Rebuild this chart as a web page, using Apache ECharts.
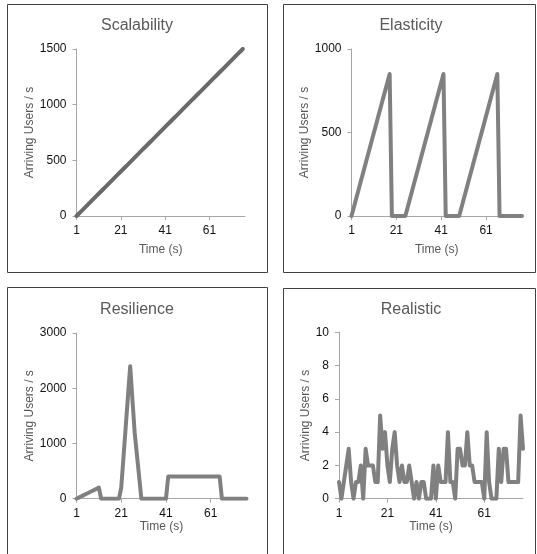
<!DOCTYPE html>
<html>
<head>
<meta charset="utf-8">
<script src="https://cdn.jsdelivr.net/npm/echarts@6/dist/echarts.min.js"></script>
<style>
    html, body { margin: 0; padding: 0; background: #fff; }
</style>
</head>
<body>
<div id="chartId" style="width: 537px; height: 554px"></div>
<script>
// time axis: 1 .. 77 seconds
const timeCats = [];
for (let t = 1; t <= 77; t++) timeCats.push(String(t));

const scalability = [
    0, 20, 40, 60, 80, 100, 120, 140, 160, 180,
    200, 220, 240, 260, 280, 300, 320, 340, 360, 380,
    400, 420, 440, 460, 480, 500, 520, 540, 560, 580,
    600, 620, 640, 660, 680, 700, 720, 740, 760, 780,
    800, 820, 840, 860, 880, 900, 920, 940, 960, 980,
    1000, 1020, 1040, 1060, 1080, 1100, 1120, 1140, 1160, 1180,
    1200, 1220, 1240, 1260, 1280, 1300, 1320, 1340, 1360, 1380,
    1400, 1420, 1440, 1460, 1480, 1500
];

const elasticity = [
    0, 50, 100, 150, 200, 250, 300, 350, 400, 450, 500, 550, 600, 650, 700, 750, 800, 850,
    0, 0, 0, 0, 0, 0,
    0, 50, 100, 150, 200, 250, 300, 350, 400, 450, 500, 550, 600, 650, 700, 750, 800, 850,
    0, 0, 0, 0, 0, 0,
    0, 50, 100, 150, 200, 250, 300, 350, 400, 450, 500, 550, 600, 650, 700, 750, 800, 850,
    0, 0, 0, 0, 0, 0, 0, 0, 0, 0, 0
];

const resilience = [
    0, 20, 40, 60, 80, 100, 120, 140, 160, 180, 200,
    0, 0, 0, 0, 0, 0, 0, 0, 0,
    200, 750, 1300, 1850, 2400,
    1800, 1200, 800, 400, 0,
    0, 0, 0, 0, 0, 0, 0, 0, 0, 0, 0,
    400, 400, 400, 400, 400, 400, 400, 400, 400, 400, 400, 400,
    400, 400, 400, 400, 400, 400, 400, 400, 400, 400, 400, 400,
    0, 0, 0, 0, 0, 0, 0, 0, 0, 0, 0, 0
];

const realistic = [
    1, 0, 1, 2, 3, 1, 0, 1, 1, 2,
    0, 3, 2, 2, 2, 1, 1, 5, 3, 4,
    2, 1, 3, 4, 2, 1, 2, 1, 1, 2,
    1, 0, 1, 0, 1, 1, 0, 0, 0, 2,
    0, 2, 1, 1, 1, 4, 1, 1, 0, 3,
    3, 2, 2, 4, 2, 2, 1, 1, 1, 1,
    0, 4, 1, 0, 0, 0, 3, 1, 3, 3,
    1, 1, 1, 1, 1, 5, 3
];

const panelTitles = ["Scalability", "Elasticity", "Resilience", "Realistic"];
const yMax = [1500, 1000, 3000, 10];
const yStep = [500, 500, 1000, 2];

const fontFam = "Liberation Sans, Arial, Helvetica, sans-serif";
const axisGrey = "#a6a6a6";

// panel layout (px)
const grids = [
    { left: 76.5, top: 49, width: 168.5, height: 167 },
    { left: 351.5, top: 49, width: 170.5, height: 167 },
    { left: 76.5, top: 333, width: 170, height: 165.7 },
    { left: 339, top: 332.3, width: 184, height: 166.4 }
];
const titlePos = [[137, 18], [411, 18], [137, 302], [411, 302]];
const xNameGap = [27.5, 27.5, 21, 21];
const yNameGap = [41, 40, 41, 27];
const boxes = [
    { x: 7.5, y: 4.5, width: 260, height: 268 },
    { x: 283.5, y: 4.5, width: 252, height: 268 },
    { x: 7.5, y: 287.5, width: 260, height: 290 },
    { x: 283.5, y: 288.5, width: 252, height: 290 }
];
const seriesData = [scalability, elasticity, resilience, realistic];

var chart = echarts.init(document.getElementById('chartId'));

var option = {
    animation: false,
    backgroundColor: '#fff',
    title: [],
    grid: [],
    xAxis: [],
    yAxis: [],
    series: [],
    graphic: []
};

for (let i = 0; i < 4; i++) {
    option.title.push({
        text: panelTitles[i],
        left: titlePos[i][0],
        top: titlePos[i][1],
        textAlign: 'center',
        padding: 0,
        textStyle: { fontFamily: fontFam, fontSize: 16, fontWeight: 'normal', color: '#595959' }
    });
    option.grid.push(Object.assign({ containLabel: false }, grids[i]));
    option.xAxis.push({
        gridIndex: i,
        type: 'category',
        data: timeCats,
        boundaryGap: false,
        name: 'Time (s)',
        nameLocation: 'middle',
        nameGap: xNameGap[i],
        nameTextStyle: { fontFamily: fontFam, fontSize: 12, color: '#595959' },
        axisLine: { lineStyle: { color: axisGrey, width: 1 } },
        axisTick: { interval: 19, length: 4, lineStyle: { color: axisGrey } },
        axisLabel: { interval: 19, margin: 9, fontFamily: fontFam, fontSize: 12, color: '#111' },
        splitLine: { show: false }
    });
    option.yAxis.push({
        gridIndex: i,
        type: 'value',
        min: 0,
        max: yMax[i],
        interval: yStep[i],
        name: 'Arriving Users / s',
        nameLocation: 'middle',
        nameGap: yNameGap[i],
        nameTextStyle: { fontFamily: fontFam, fontSize: 12, color: '#595959' },
        axisLine: { show: true, lineStyle: { color: axisGrey, width: 1 } },
        axisTick: { show: true, length: 4, lineStyle: { color: axisGrey } },
        axisLabel: {
            margin: 10, fontFamily: fontFam, fontSize: 12, color: '#111',
            formatter: function (v) { return String(v); }   // no thousands comma
        },
        splitLine: { show: false }
    });
    option.series.push({
        type: 'line',
        xAxisIndex: i,
        yAxisIndex: i,
        data: seriesData[i],
        symbol: 'none',
        lineStyle: { width: 4, color: i === 0 ? '#6a6a6a' : '#808080', join: 'round', cap: 'round' },
        itemStyle: { color: '#808080' }
    });
    // panel frame
    option.graphic.push({
        type: 'rect',
        shape: boxes[i],
        style: { fill: 'none', stroke: '#404040', lineWidth: 1 },
        silent: true
    });
}

chart.setOption(option);
</script>
</body>
</html>
